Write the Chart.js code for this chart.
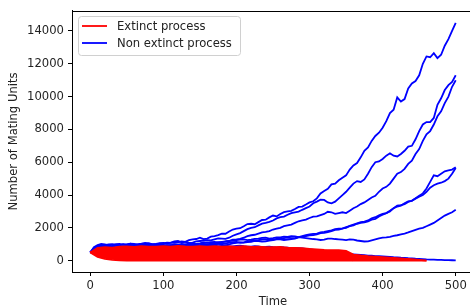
<!DOCTYPE html>
<html>
<head>
<meta charset="utf-8">
<script src="https://cdn.jsdelivr.net/npm/chart.js@4.4.1/dist/chart.umd.min.js"></script>
<style>
  html, body { margin: 0; padding: 0; background: #fff; overflow: hidden; width: 470px; height: 307px; }
  canvas { display: block; }
</style>
</head>
<body>
<canvas id="chart" width="480" height="307"></canvas>
<script>
// time axis: fine steps for the non extinct runs, coarse steps for the extinct band
const timeFine = [0,5,10,15,20,25,30,35,40,45,50,55,60,65,70,75,80,85,90,95,
  100,105,110,115,120,125,130,135,140,145,150,155,160,165,170,175,180,185,190,195,
  200,205,210,215,220,225,230,235,240,245,250,255,260,265,270,275,280,285,290,295,
  300,305,310,315,320,325,330,335,340,345,350,355,360,365,370,375,380,385,390,395,
  400,405,410,415,420,425,430,435,440,445,450,455,460,465,470,475,480,485,490,495,500];
const timeCoarse = [0,10,20,30,40,50,60,70,80,90,100,110,120,130,140,150,160,170,180,190,
  200,210,220,230,240,250,260,270,280,290,300,310,320,330,340,350,360,370,380,390,
  400,410,420,430,440,450,460];

const xTicks = [0, 100, 200, 300, 400, 500];
const yTicks = [0, 2000, 4000, 6000, 8000, 10000, 12000, 14000];
const legendLabels = ['Extinct process', 'Non extinct process'];

// non extinct processes
const blue1 = [500,820,950,1020,1000,940,960,1010,1020,960,
  1000,1030,980,1010,1040,1090,1060,990,1020,1070,
  1080,1040,1100,1180,1200,1120,1150,1250,1300,1320,
  1400,1310,1350,1460,1500,1560,1650,1640,1780,1900,
  1950,1980,2100,2230,2250,2220,2350,2480,2500,2640,
  2750,2700,2850,2960,3000,3040,3150,3280,3300,3420,
  3550,3620,3800,4100,4250,4380,4650,4700,4900,5050,
  5200,5550,5800,5950,6300,6700,6900,7300,7600,7800,
  8100,8500,9000,9200,9950,9700,9850,10500,10800,10950,
  11300,12000,12450,12400,12650,12350,12550,13100,13500,14000,
  14500];
const blue2 = [500,780,900,960,950,990,1000,950,940,1000,
  980,1040,1020,960,990,1030,1050,1010,1000,1040,
  1060,1100,1080,1090,1120,1180,1150,1090,1100,1170,
  1200,1230,1250,1240,1300,1360,1350,1330,1400,1520,
  1600,1680,1800,1920,2000,2040,2150,2260,2300,2370,
  2450,2580,2650,2690,2800,2900,2950,2990,3100,3200,
  3300,3500,3600,3720,3700,3550,3500,3600,3800,4000,
  4200,4450,4700,4850,4800,4950,5300,5700,6000,6050,
  6200,6400,6550,6400,6350,6500,6700,6950,7000,7400,
  7900,8300,8450,8450,8700,9500,9900,10400,10700,10900,
  11300];
const blue3 = [500,700,820,860,880,840,860,910,900,860,
  880,930,920,880,900,960,950,900,920,970,
  960,920,940,990,980,1020,1000,960,980,1030,
  1050,1120,1100,1050,1080,1130,1150,1170,1200,1280,
  1300,1330,1400,1500,1550,1580,1650,1720,1750,1800,
  1900,1950,2000,2100,2150,2200,2300,2400,2450,2500,
  2600,2680,2700,2780,2850,2980,2950,2850,2900,2950,
  2900,3050,3200,3300,3450,3550,3700,3850,3950,4200,
  4400,4500,4700,5000,5300,5400,5600,5900,6100,6500,
  6800,7300,7700,7900,8300,8800,9100,9600,10000,10600,
  11000];
const blue4 = [500,640,700,740,760,700,720,780,800,760,
  780,830,820,780,800,860,850,800,830,880,
  870,830,850,900,880,920,900,860,870,930,
  950,990,1000,960,980,1030,1050,1020,1000,1060,
  1080,1120,1100,1130,1150,1210,1200,1160,1180,1230,
  1250,1300,1300,1260,1280,1320,1350,1420,1450,1500,
  1550,1560,1600,1680,1700,1740,1800,1880,1900,1960,
  2050,2100,2150,2250,2300,2330,2400,2500,2550,2700,
  2800,2900,3050,3200,3300,3350,3500,3620,3650,3800,
  3950,4100,4400,4800,5200,5150,5300,5450,5500,5550,
  5700];
const blue5 = [500,680,760,700,720,770,780,740,760,810,
  800,760,780,830,840,800,810,850,860,900,
  880,920,900,860,860,900,920,970,960,920,
  900,950,980,1020,1050,1030,1000,1060,1100,1130,
  1150,1100,1120,1170,1200,1230,1250,1290,1300,1260,
  1280,1330,1350,1380,1400,1370,1380,1440,1500,1560,
  1600,1630,1650,1720,1750,1800,1850,1920,1950,1970,
  2000,2120,2200,2280,2350,2380,2450,2580,2650,2760,
  2850,2900,3000,3200,3350,3380,3450,3580,3650,3780,
  3900,4000,4200,4450,4600,4700,4750,4850,5000,5300,
  5650];
const blue6 = [500,660,720,770,780,730,760,810,800,780,
  820,850,800,820,850,890,870,830,850,890,
  900,940,950,900,920,980,1000,1040,1050,1000,
  1020,1070,1100,1130,1150,1100,1120,1180,1200,1230,
  1250,1290,1300,1250,1280,1330,1350,1390,1400,1350,
  1380,1420,1420,1470,1450,1490,1480,1430,1400,1380,
  1350,1320,1300,1260,1280,1340,1350,1320,1300,1280,
  1250,1300,1280,1230,1200,1170,1180,1240,1300,1360,
  1400,1420,1450,1510,1550,1600,1650,1720,1800,1880,
  1950,2000,2100,2200,2300,2450,2600,2750,2850,2950,
  3100];
const blue7 = [500,760,880,940,920,870,900,950,960,990,
  940,900,900,940,960,1000,980,930,940,970,
  950,900,920,980,960,910,930,970,950,900,
  920,960,940,900,910,880,900,920,880,870,
  900,920,880,850,860,890,870,830,840,860,
  820,800,830,810,800,770,770,760,750,720,
  700,660,620,580,540,510,480,460,440,420,
  410,400,390,370,350,330,310,300,280,270,
  260,250,230,210,200,180,170,150,140,120,
  110,100,80,70,60,50,45,35,30,25,
  20];

// extinct processes
const redUpper = [500,780,820,800,850,870,840,880,860,850,880,860,900,870,850,880,860,890,850,870,
  860,880,840,850,830,820,840,790,780,760,720,690,660,640,640,600,370,320,280,250,
  220,190,160,120,90,50,0];
const redLower = [500,230,110,50,15,0,0,0,0,0,0,0,0,0,0,0,0,0,0,0,
  0,0,0,0,0,0,0,0,0,0,0,0,0,0,0,0,0,0,0,0,
  0,0,0,0,0,0,0];
const redMid = [500,600,560,620,580,640,600,660,620,700,650,720,680,740,700,760,720,780,740,800,
  760,800,770,820,780,800,760,740,720,700,680,640,600,560,520,480,0];

const RED = '#ff0000';
const BLUE = '#0000ff';
const FONT = "'DejaVu Sans', sans-serif";

function pts(values, times) {
  return values.map((v, i) => ({ x: times[i], y: v }));
}

const blueSeries = [blue1, blue2, blue3, blue4, blue5, blue6, blue7];

const datasets = [];
datasets.push({
  label: 'extinct-upper', data: pts(redUpper, timeCoarse), borderColor: RED, backgroundColor: RED,
  borderWidth: 1.8, fill: { target: 1 }, order: 0
});
datasets.push({
  label: 'extinct-lower', data: pts(redLower, timeCoarse), borderColor: RED, borderWidth: 1.8, fill: false, order: 0
});
datasets.push({
  label: 'extinct-mid', data: pts(redMid, timeCoarse), borderColor: RED, borderWidth: 1.8, fill: false, order: 0
});
blueSeries.forEach((s, i) => {
  datasets.push({
    label: 'non-extinct-' + i, data: pts(s, timeFine), borderColor: BLUE, borderWidth: 1.8, fill: false, order: 1
  });
});

const framePlugin = {
  id: 'frame',
  afterDraw(chart) {
    const { ctx, chartArea: a } = chart;
    ctx.save();
    ctx.strokeStyle = '#000';
    ctx.lineWidth = 1;
    ctx.beginPath();
    ctx.moveTo(a.left, Math.round(a.top) + 0.5);
    ctx.lineTo(a.right, Math.round(a.top) + 0.5);
    ctx.moveTo(Math.round(a.right) - 0.5, a.top);
    ctx.lineTo(Math.round(a.right) - 0.5, a.bottom);
    ctx.stroke();

    // legend box
    const bx = 78.5, by = 16.5, bw = 162, bh = 39;
    ctx.fillStyle = 'rgba(255,255,255,0.85)';
    ctx.strokeStyle = '#d0d0d0';
    ctx.beginPath();
    ctx.roundRect(bx, by, bw, bh, 3);
    ctx.fill();
    ctx.stroke();

    const colors = [RED, BLUE];
    const rows = [26, 43];
    ctx.font = '11.6px ' + FONT;
    ctx.textBaseline = 'middle';
    legendLabels.forEach((lab, i) => {
      ctx.strokeStyle = colors[i];
      ctx.lineWidth = 1.8;
      ctx.beginPath();
      ctx.moveTo(82, rows[i]);
      ctx.lineTo(107, rows[i]);
      ctx.stroke();
      ctx.fillStyle = '#222';
      ctx.fillText(lab, 117, rows[i] + 0.5);
    });
    ctx.restore();
  }
};

new Chart(document.getElementById('chart').getContext('2d'), {
  type: 'line',
  data: { datasets: datasets },
  options: {
    responsive: false,
    animation: false,
    layout: { padding: { left: 0, top: 10, right: 6, bottom: 0 } },
    elements: { point: { radius: 0 }, line: { tension: 0 } },
    plugins: { legend: { display: false }, tooltip: { enabled: false } },
    scales: {
      x: {
        type: 'linear', min: -25, max: 525,
        afterBuildTicks: s => { s.ticks = xTicks.map(v => ({ value: v })); },
        afterFit: s => { s.height = 35; },
        grid: { drawOnChartArea: false, tickLength: 4, color: '#000' },
        border: { color: '#000', width: 1 },
        ticks: { padding: 3, color: '#222', font: { family: FONT, size: 11.6 }, maxRotation: 0, callback: v => String(v) },
        title: { display: true, text: 'Time', color: '#222', font: { family: FONT, size: 11.6 }, padding: { top: 0, bottom: -2 } }
      },
      y: {
        type: 'linear', min: -690, max: 15220,
        afterBuildTicks: s => { s.ticks = yTicks.map(v => ({ value: v })); },
        afterFit: s => { s.width = 72; },
        grid: { drawOnChartArea: false, tickLength: 4, color: '#000' },
        border: { color: '#000', width: 1 },
        ticks: { padding: 4, color: '#222', font: { family: FONT, size: 11.6 }, callback: v => String(v) },
        title: { display: true, text: 'Number of Mating Units', color: '#222', font: { family: FONT, size: 11.6 }, padding: { top: 7, bottom: 0 } }
      }
    }
  },
  plugins: [framePlugin]
});
</script>
</body>
</html>
